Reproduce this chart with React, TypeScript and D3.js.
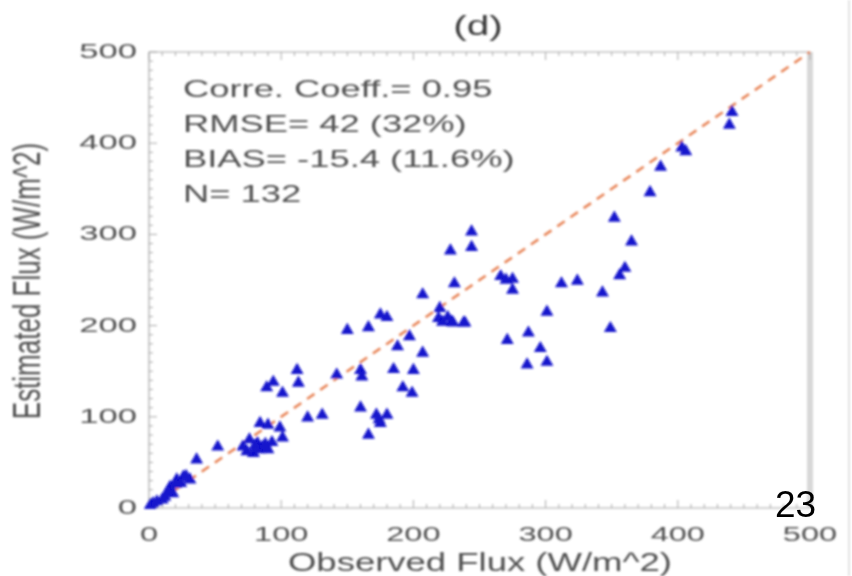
import React from "react";
import * as d3 from "d3";

const W = 852;
const H = 576;

const observed = [
  441, 439, 403, 406, 387, 379, 352, 365, 360, 356,
  244, 244, 228, 266, 275, 275, 312, 324, 231, 343,
  301, 238, 229, 287, 271, 296, 301, 286, 349, 207,
  220, 219, 222, 230, 239, 175, 180, 150, 166, 197,
  188, 207, 112, 113, 94, 89, 101, 142, 160, 161,
  185, 200, 192, 199, 160, 172, 180, 175, 166, 120,
  131, 84, 90, 99, 101, 76, 82, 86, 79, 84,
  90, 71, 52, 36, 26, 21, 31, 16, 18, 12,
  10, 3, 1, 88, 80, 93, 74, 24, 28, 14,
  20, 6, 174, 226, 270,
];
const estimated = [
  434, 420, 395, 391, 374, 346, 318, 292, 263, 255,
  303, 286, 282, 254, 251, 239, 246, 249, 246, 236,
  215, 203, 204, 192, 184, 175, 160, 157, 197, 234,
  219, 208, 204, 203, 203, 212, 209, 195, 198, 188,
  177, 170, 151, 137, 138, 132, 126, 146, 151, 144,
  152, 151, 132, 126, 110, 102, 102, 93, 80, 99,
  102, 93, 91, 88, 77, 75, 71, 67, 60, 64,
  64, 67, 67, 53, 34, 31, 31, 23, 16, 12,
  9, 5, 3, 70, 68, 72, 62, 27, 35, 18,
  26, 7, 97, 209, 250,
];

const tickValues = [0, 100, 200, 300, 400, 500];
const statLines = [
  "Corre. Coeff.= 0.95",
  "RMSE= 42 (32%)",
  "BIAS= -15.4 (11.6%)",
  "N= 132",
];
const title = "(d)";
const xTitle = "Observed Flux (W/m^2)";
const yTitle = "Estimated Flux (W/m^2)";
const pageNumber = "23";

export default function App() {
  const x = d3.scaleLinear().domain([0, 500]).range([149, 810]);
  const y = d3.scaleLinear().domain([0, 500]).range([508, 52]);
  const minor = d3.range(0, 501, 10);
  const tri = d3.symbol(d3.symbolTriangle).size(72)();
  const font = "'Liberation Sans', Arial, Helvetica, sans-serif";
  const txt = "#505050";
  const axisCol = "#a8a8a8";

  const pts = observed.map((o, i) => ({ o, e: estimated[i] }));

  return (
    <svg
      width={W}
      height={H}
      viewBox={`0 0 ${W} ${H}`}
      style={{ position: "absolute", left: 0, top: 0, background: "#fff" }}
    >
      <defs>
        <filter id="blur" filterUnits="userSpaceOnUse" x={0} y={0} width={W} height={H}>
          <feGaussianBlur stdDeviation={0.9} />
        </filter>
      </defs>
      <rect x={0} y={0} width={W} height={H} fill="#fff" />
      <g filter="url(#blur)">
        <line x1={x(0)} x2={x(500)} y1={y(0)} y2={y(0)} stroke={axisCol} strokeWidth={1.2} />
        <line x1={x(0)} x2={x(500)} y1={y(500)} y2={y(500)} stroke={axisCol} strokeWidth={1.2} />
        <line x1={x(0)} x2={x(0)} y1={y(0)} y2={y(500)} stroke={axisCol} strokeWidth={1.2} />
        <line x1={x(500)} x2={x(500)} y1={y(0)} y2={y(500)} stroke="#d8d8d8" strokeWidth={6} />
        <line x1={849} x2={849} y1={0} y2={H} stroke="#e2e2e2" strokeWidth={2} />
        {minor.map((v) => {
          const len = v % 100 === 0 ? 8 : 4;
          return (
            <g key={"t" + v}>
              <line x1={x(v)} x2={x(v)} y1={y(0)} y2={y(0) - len} stroke={axisCol} strokeWidth={1} />
              <line x1={x(v)} x2={x(v)} y1={y(500)} y2={y(500) + len} stroke={axisCol} strokeWidth={1} />
              <line x1={x(0)} x2={x(0) + len} y1={y(v)} y2={y(v)} stroke={axisCol} strokeWidth={1} />
            </g>
          );
        })}
        <line
          x1={x(0)}
          y1={y(0)}
          x2={x(500)}
          y2={y(500)}
          stroke="#e8865a"
          strokeWidth={2.6}
          strokeDasharray="9,7"
        />
        {pts.map((p, i) => (
          <path
            key={"p" + i}
            d={tri}
            transform={`translate(${x(p.o)},${y(p.e)})`}
            fill="#1212cc"
          />
        ))}
        {tickValues.map((v) => (
          <text
            key={"xl" + v}
            transform={`translate(${x(v)},541) scale(1.55,1)`}
            textAnchor="middle"
            fontFamily={font}
            fontSize={21}
            fill={txt}
          >
            {v}
          </text>
        ))}
        {tickValues.map((v) => (
          <text
            key={"yl" + v}
            transform={`translate(137,${y(v) + 6}) scale(1.65,1)`}
            textAnchor="end"
            fontFamily={font}
            fontSize={21}
            fill={txt}
          >
            {v}
          </text>
        ))}
        <text
          transform={`translate(478,35) scale(1.45,1)`}
          textAnchor="middle"
          fontFamily={font}
          fontSize={28}
          fill="#3a3a3a"
        >
          {title}
        </text>
        <text
          transform={`translate(480,571) scale(1.46,1)`}
          textAnchor="middle"
          fontFamily={font}
          fontSize={25}
          fill={txt}
        >
          {xTitle}
        </text>
        <text
          transform={`translate(40,281) scale(1.5,1) rotate(-90)`}
          textAnchor="middle"
          fontFamily={font}
          fontSize={26}
          fill={txt}
        >
          {yTitle}
        </text>
        {statLines.map((s, i) => (
          <text
            key={"s" + i}
            transform={`translate(183,${97 + i * 35}) scale(1.58,1)`}
            fontFamily={font}
            fontSize={23}
            fill={txt}
          >
            {s}
          </text>
        ))}
      </g>
      <text x={775} y={517} fontFamily={font} fontSize={37} fill="#000">
        {pageNumber}
      </text>
    </svg>
  );
}
